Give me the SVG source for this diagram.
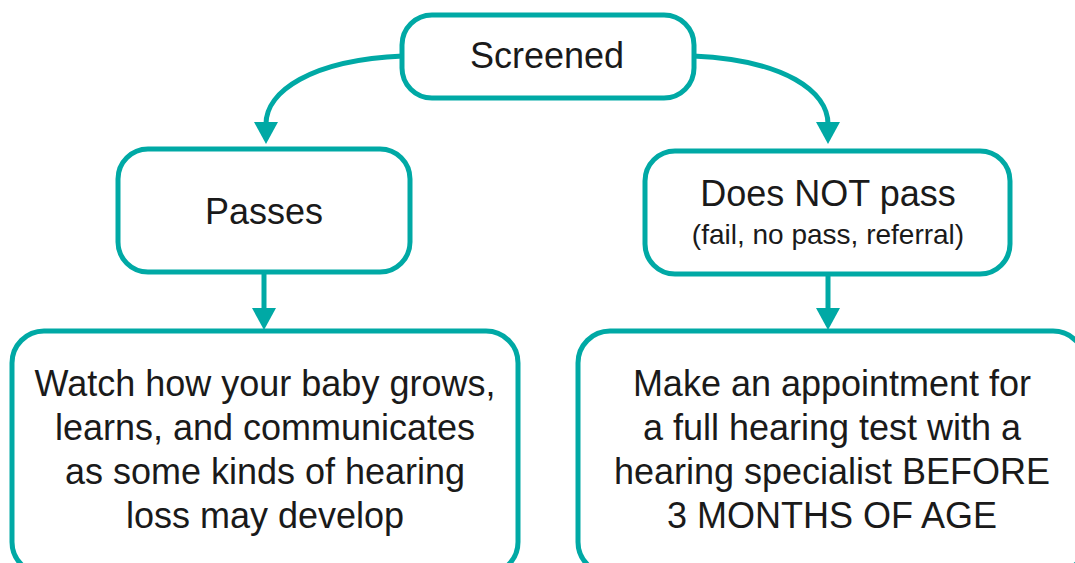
<svg xmlns="http://www.w3.org/2000/svg" width="1075" height="563" viewBox="0 0 1075 563">
<defs>
<style>
.box{fill:#fff;stroke:#00a9a5;stroke-width:5}
.ln{fill:none;stroke:#00a9a5;stroke-width:5}
.head{fill:#00a9a5}
text{font-family:"Liberation Sans",Arial,sans-serif;fill:#1a1a1a;text-anchor:middle}
.big{font-size:36px}
.sm{font-size:28px}
</style>
</defs>
<rect width="1075" height="563" fill="#fff"/>
<g id="connectors">
<path class="ln" d="M403,56 C310,60 266,92 266,124"/>
<polygon class="head" points="254,122 278,122 266,144"/>
<path class="ln" d="M693,56 C786,60 828,92 828,124"/>
<polygon class="head" points="816,122 840,122 828,144"/>
<path class="ln" d="M264,272 L264,310"/>
<polygon class="head" points="252,308 276,308 264,330"/>
<path class="ln" d="M828,274 L828,310"/>
<polygon class="head" points="816,308 840,308 828,330"/>
</g>
<g id="screened">
<rect class="box" x="402" y="15" width="292" height="83" rx="30"/>
<text class="big" x="547" y="68">Screened</text>
</g>
<g id="passes">
<rect class="box" x="118" y="149" width="292" height="123" rx="30"/>
<text class="big" x="264" y="224">Passes</text>
</g>
<g id="notpass">
<rect class="box" x="645" y="151" width="365" height="123" rx="30"/>
<text class="big" x="828" y="206">Does NOT pass</text>
<text class="sm" x="828" y="244">(fail, no pass, referral)</text>
</g>
<g id="watch">
<rect class="box" x="12" y="331" width="506" height="243" rx="32"/>
<text class="big" x="265" y="396">Watch how your baby grows,</text>
<text class="big" x="265" y="440">learns, and communicates</text>
<text class="big" x="265" y="484">as some kinds of hearing</text>
<text class="big" x="265" y="528">loss may develop</text>
</g>
<g id="appointment">
<rect class="box" x="578" y="331" width="507" height="243" rx="32"/>
<text class="big" x="832" y="396">Make an appointment for</text>
<text class="big" x="832" y="440">a full hearing test with a</text>
<text class="big" x="832" y="484">hearing specialist BEFORE</text>
<text class="big" x="832" y="528">3 MONTHS OF AGE</text>
</g>
</svg>
